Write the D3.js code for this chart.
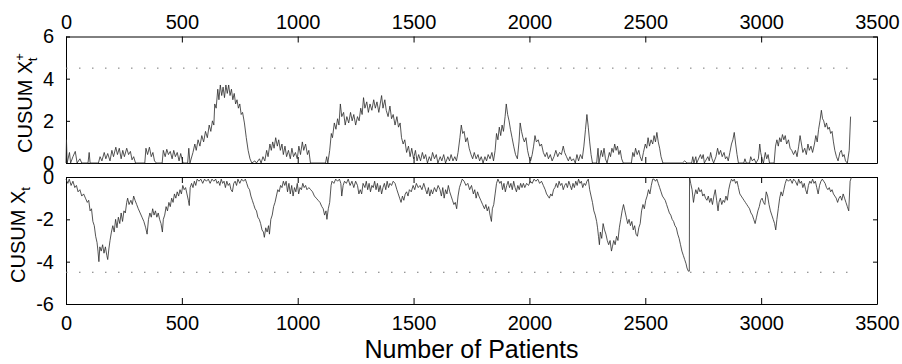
<!DOCTYPE html>
<html lang="en">
<head>
<meta charset="UTF-8">
<title>CUSUM chart</title>
<script src="https://d3js.org/d3.v7.min.js"></script>
<style>
  body { margin: 0; background: #fff; }
  svg { display: block; font-family: "Liberation Sans", Arial, sans-serif; }
  .tick text { font-size: 20px; fill: #000; }
  .domain, .tick line { stroke: #000; stroke-width: 1; }
</style>
</head>
<body>
<svg id="chart"></svg>
<script>
// x ticks and y ticks
const xTicks = [0, 500, 1000, 1500, 2000, 2500, 3000, 3500];
const upperTicks = [0, 2, 4, 6];
const lowerTicks = [-6, -4, -2, 0];
const threshold = 4.5;
const lastPatient = 3390;

// upper CUSUM (patient number, value)
const upperX = [0,2,5,15,20,30,40,48,60,68,95,100,104,140,147,155,165,172,180,190,198,205,215,222,230,238,245,252,262,270,278,285,292,300,340,345,352,360,368,375,382,390,415,420,428,435,442,450,458,465,472,480,488,495,505,525,530,535,548,556,562,570,578,586,594,602,610,618,625,632,638,642,648,655,660,666,672,678,684,690,696,702,708,714,720,726,732,738,744,750,756,762,770,778,786,794,802,815,822,835,842,850,858,866,872,880,886,892,898,905,912,918,925,932,938,945,952,960,968,975,982,990,998,1005,1012,1020,1026,1034,1042,1048,1055,1120,1125,1130,1138,1145,1150,1158,1165,1172,1178,1184,1190,1198,1205,1212,1220,1228,1235,1242,1250,1258,1265,1272,1278,1284,1290,1298,1305,1312,1320,1328,1335,1342,1350,1356,1362,1368,1376,1382,1390,1398,1405,1412,1420,1428,1435,1442,1448,1455,1462,1470,1478,1485,1492,1500,1508,1515,1522,1530,1538,1545,1552,1560,1568,1575,1582,1590,1598,1605,1615,1622,1630,1638,1648,1655,1662,1670,1678,1685,1692,1700,1706,1712,1718,1725,1732,1740,1748,1755,1762,1770,1778,1785,1792,1800,1808,1815,1822,1830,1838,1845,1852,1858,1864,1870,1876,1882,1888,1895,1900,1906,1912,1918,1925,1932,1940,1948,1955,1960,1966,1972,1978,1985,1992,1998,2005,2012,2018,2024,2030,2038,2045,2052,2060,2068,2075,2082,2090,2098,2106,2114,2122,2130,2138,2146,2152,2160,2168,2175,2182,2190,2198,2205,2212,2220,2228,2235,2242,2248,2254,2260,2266,2272,2290,2296,2300,2310,2316,2322,2328,2335,2345,2350,2356,2362,2368,2374,2380,2386,2392,2398,2405,2440,2446,2452,2458,2465,2472,2478,2485,2492,2500,2506,2512,2518,2525,2532,2538,2544,2550,2556,2562,2568,2576,2660,2670,2680,2700,2705,2710,2718,2722,2738,2744,2750,2755,2770,2776,2782,2788,2795,2805,2812,2818,2825,2832,2840,2846,2852,2858,2865,2872,2878,2884,2890,2896,2902,2925,2930,2936,2950,2955,2962,2970,2978,2988,2994,2998,3004,3010,3018,3024,3030,3036,3056,3062,3068,3074,3080,3086,3092,3098,3104,3110,3118,3125,3132,3140,3148,3155,3162,3168,3174,3180,3188,3195,3202,3208,3215,3222,3230,3236,3242,3248,3254,3260,3265,3270,3276,3282,3288,3294,3300,3306,3312,3318,3325,3332,3340,3346,3352,3358,3364,3372,3380,3386];
const upperY = [0,1.1,0,0.5,0,0.3,0.55,0,0.2,0,0,0.5,0,0,0.3,0.1,0.5,0.2,0.45,0.1,0.6,0.3,0.75,0.4,0.7,0.2,0.6,0.3,0.7,0.4,0.55,0.15,0.3,0,0,0.7,0.4,0.75,0.3,0.5,0.1,0,0,0.6,0.3,0.65,0.4,0.55,0.2,0.6,0.3,0.5,0.1,0.45,0,0,0.7,0,0.5,0.9,0.6,1.1,0.8,1.3,1.0,1.5,1.2,1.8,1.5,2.0,1.8,2.8,2.6,3.5,3.0,3.7,3.2,3.6,3.1,3.7,3.3,3.7,3.2,3.5,3.0,3.3,2.8,3.0,2.6,2.8,2.3,2.4,1.9,1.2,0.6,0.2,0,0.1,0,0.2,0,0.3,0.1,0.6,0.3,0.9,0.6,1.0,0.7,1.2,0.8,1.1,0.6,0.9,0.4,0.8,0.3,0.6,0.2,0.7,0.3,0.5,0.2,0.8,0.4,1.0,0.6,0.9,0.4,0.6,0,0,0.3,0,0.6,1.4,1.2,1.9,1.6,2.1,1.8,2.8,2.2,2.4,1.8,2.2,1.9,2.4,2.0,2.3,1.8,2.2,2.0,2.6,2.3,3.1,2.6,2.9,2.4,2.8,2.5,3.0,2.6,2.9,2.4,2.8,3.2,2.6,3.0,2.5,2.2,2.7,2.1,2.3,1.8,2.2,1.7,1.9,1.2,0.9,1.1,0.5,0.8,0.3,0.7,0.2,0.6,0.1,0.4,0.1,0.5,0.2,0.4,0,0.3,0.1,0.5,0.2,0.4,0,0.3,0.1,0.4,0,0.3,0.1,0.4,0.1,0.3,0.1,0.5,1.2,1.8,1.4,1.5,1.0,1.2,0.7,0.4,0.2,0.5,0.2,0.4,0.1,0.3,0,0.3,0.1,0.4,0.2,0.5,0.1,0.6,1.4,1.1,1.7,1.3,1.8,1.5,2.2,2.8,2.3,2.0,1.6,1.2,0.8,0.4,0.2,1.0,1.9,1.5,1.2,1.0,1.2,0.6,0.3,0.1,0.4,0.8,1.3,1.0,1.1,0.8,0.9,0.5,0.3,0.5,0.2,0.4,0.1,0.3,0.6,0.3,0.5,0.4,0.8,0.5,0.3,0.1,0.3,0.1,0.2,0,0.4,0.1,0.4,0.2,0.8,1.6,2.3,1.7,1.0,0.4,0,0,0.7,0,0.6,0.3,0.7,0.2,0,0.5,0.3,0.7,0.5,0.9,0.6,0.8,0.4,0.6,0.2,0,0,0.5,0.3,0.7,0.4,0.6,0.3,0.1,0.5,0.9,0.7,1.2,0.8,1.1,0.9,1.3,1.0,1.45,1.0,0.7,0.3,0,0,0.1,0,0,0.3,0,0.3,0,0.4,0.2,0.4,0,0.3,0.1,0.5,0.2,0,0.3,0.7,0.4,0.6,0.3,0.5,0.2,0.3,0.1,0.5,0.9,1.1,1.45,0.9,0.4,0,0,0.2,0,0,0.3,0.1,0.2,0,0.2,0.9,0.5,0.2,0,0.5,0.2,0.4,0,0,0.8,1.1,0.8,1.2,1.0,1.35,1.1,1.3,0.9,1.1,0.7,0.6,0.4,0.6,0.3,0.8,1.3,0.9,0.5,0.7,0.4,0.9,0.6,0.8,0.5,0.9,1.3,1.0,1.6,2.0,2.5,2.1,2.0,1.7,1.9,1.6,1.7,1.4,1.5,1.0,0.6,0.3,0.1,0.5,0.6,0.3,0.4,0.1,0,0.6,2.2];

// lower CUSUM (patient number, value)
const lowerX = [0,8,14,22,30,38,45,52,60,68,76,84,92,98,104,110,116,122,128,134,138,142,146,152,158,164,170,176,180,185,190,196,202,208,214,220,226,232,238,244,250,256,262,266,272,280,286,292,298,305,312,320,328,336,344,350,356,362,368,374,380,386,392,398,404,410,416,420,426,432,438,444,450,456,462,468,474,480,486,492,498,504,510,516,522,528,532,536,542,548,554,560,566,574,582,590,598,606,614,622,630,638,646,652,658,664,670,676,682,688,694,700,706,712,718,724,730,736,742,750,758,766,774,780,786,792,798,804,810,816,822,828,834,840,846,852,856,862,868,874,878,884,890,896,902,908,914,920,926,932,938,944,950,956,962,968,974,980,986,992,998,1004,1010,1016,1022,1028,1034,1040,1048,1056,1064,1072,1080,1088,1096,1104,1110,1116,1122,1126,1132,1138,1144,1148,1156,1164,1172,1180,1186,1190,1196,1202,1210,1218,1226,1234,1242,1250,1258,1264,1270,1276,1282,1290,1296,1302,1308,1314,1320,1326,1332,1338,1344,1350,1356,1362,1368,1374,1380,1386,1392,1398,1405,1412,1420,1428,1434,1440,1446,1452,1458,1464,1470,1476,1482,1490,1498,1505,1512,1520,1528,1536,1544,1552,1558,1564,1570,1576,1582,1590,1598,1606,1614,1620,1626,1632,1638,1644,1650,1656,1662,1668,1674,1680,1686,1692,1698,1704,1710,1718,1726,1734,1742,1750,1758,1764,1770,1776,1782,1790,1798,1806,1812,1818,1824,1830,1836,1840,1846,1852,1858,1864,1872,1878,1884,1890,1896,1902,1908,1914,1920,1926,1932,1938,1944,1950,1956,1962,1968,1974,1980,1988,1996,2004,2012,2020,2028,2036,2044,2052,2060,2068,2074,2080,2086,2092,2098,2104,2110,2116,2122,2128,2134,2140,2146,2152,2158,2164,2170,2176,2182,2188,2194,2200,2206,2212,2218,2224,2230,2236,2242,2248,2254,2260,2266,2272,2278,2284,2290,2294,2298,2302,2306,2312,2318,2324,2330,2336,2342,2348,2354,2358,2364,2370,2376,2382,2388,2394,2400,2406,2412,2418,2424,2430,2436,2442,2448,2454,2460,2466,2472,2478,2484,2490,2496,2502,2508,2514,2520,2526,2532,2538,2544,2550,2556,2562,2568,2574,2580,2586,2592,2598,2604,2610,2616,2622,2628,2634,2640,2646,2652,2658,2664,2670,2676,2680,2686,2690,2691,2696,2702,2708,2712,2718,2724,2730,2736,2742,2748,2754,2760,2766,2772,2778,2784,2790,2796,2802,2808,2814,2818,2824,2830,2836,2842,2848,2854,2860,2866,2872,2878,2884,2890,2896,2902,2908,2914,2920,2926,2932,2938,2944,2950,2956,2962,2968,2974,2980,2986,2992,2998,3004,3010,3016,3022,3028,3034,3040,3046,3052,3058,3063,3068,3074,3080,3086,3092,3098,3104,3110,3118,3126,3134,3140,3148,3156,3162,3168,3174,3180,3186,3192,3198,3204,3210,3216,3222,3228,3234,3240,3246,3252,3258,3264,3270,3276,3282,3288,3294,3300,3306,3312,3318,3324,3330,3336,3342,3348,3354,3360,3366,3372,3378,3384,3390];
const lowerY = [-0.1,-0.3,-0.1,-0.4,-0.2,-0.5,-0.4,-0.7,-0.6,-0.9,-0.8,-1.0,-1.2,-1.1,-1.6,-1.5,-2.1,-2.3,-2.8,-3.1,-3.5,-4.0,-3.3,-3.5,-3.2,-3.6,-3.3,-3.7,-3.9,-3.4,-3.0,-2.6,-2.3,-2.6,-2.0,-2.4,-1.9,-2.2,-1.7,-2.1,-1.6,-1.7,-1.2,-1.0,-1.3,-1.1,-1.3,-0.9,-1.1,-1.3,-1.5,-1.7,-1.9,-2.1,-2.4,-2.7,-2.0,-1.7,-1.9,-1.5,-1.8,-1.6,-1.9,-1.7,-2.0,-2.2,-2.6,-2.0,-1.8,-1.4,-1.6,-1.2,-1.4,-1.0,-1.2,-0.8,-1.0,-0.7,-0.9,-0.6,-0.8,-0.4,-0.6,-0.5,-0.8,-1.1,-1.35,-0.5,-0.3,-0.5,-0.2,-0.4,-0.1,-0.2,-0.1,-0.3,-0.1,-0.2,-0.1,-0.3,-0.1,-0.2,-0.1,-0.3,-0.2,-0.4,-0.1,-0.3,-0.2,-0.5,-0.2,-0.4,-0.3,-0.6,-0.7,-0.3,-0.2,-0.4,-0.1,-0.3,-0.1,-0.2,-0.1,-0.3,-0.5,-0.6,-0.9,-1.1,-1.3,-1.5,-1.6,-1.9,-2.0,-2.2,-2.5,-2.6,-2.85,-2.4,-2.6,-2.3,-2.7,-2.0,-1.8,-1.4,-1.2,-0.9,-0.6,-0.7,-0.4,-0.5,-0.2,-0.4,-0.2,-0.7,-0.3,-0.8,-0.4,-0.9,-0.5,-0.7,-0.3,-0.8,-0.5,-0.6,-0.3,-0.5,-0.4,-0.6,-0.5,-0.6,-0.7,-0.9,-1.0,-1.1,-1.2,-1.4,-1.5,-1.8,-1.6,-2.0,-1.5,-1.2,-0.4,-0.2,-0.3,-0.1,-0.2,-0.1,-0.3,-0.9,-0.4,-0.2,-0.3,-0.1,-0.4,-0.2,-0.5,-0.2,-0.4,-0.8,-0.6,-0.8,-0.3,-0.5,-0.2,-0.6,-0.3,-0.7,-0.4,-0.5,-0.2,-0.6,-0.3,-0.7,-0.4,-0.8,-0.5,-0.3,-0.6,-0.2,-0.5,-0.3,-0.4,-0.2,-0.3,-0.6,-0.8,-1.0,-1.2,-0.9,-1.1,-0.8,-0.7,-0.9,-0.6,-0.7,-0.4,-0.6,-0.3,-0.5,-0.4,-0.6,-0.3,-0.6,-0.8,-0.5,-0.9,-0.6,-0.8,-0.5,-0.7,-0.4,-0.6,-0.9,-0.5,-1.0,-0.6,-0.8,-0.4,-0.7,-0.9,-1.1,-1.3,-1.2,-1.5,-0.9,-0.5,-0.3,-0.1,-0.2,-0.4,-0.3,-0.6,-0.4,-0.8,-0.6,-1.0,-0.7,-0.9,-1.1,-1.3,-1.5,-1.3,-1.6,-1.4,-1.8,-2.1,-1.5,-1.3,-0.8,-0.3,-0.1,-0.3,-0.2,-0.6,-0.3,-0.7,-0.4,-0.2,-0.5,-0.3,-0.6,-0.2,-0.5,-0.7,-0.4,-0.6,-0.3,-0.5,-0.3,-0.5,-0.3,-0.4,-0.2,-0.3,-0.1,-0.2,-0.1,-0.3,-0.2,-0.4,-0.6,-0.8,-0.9,-1.0,-0.8,-0.9,-0.6,-0.5,-0.3,-0.5,-0.2,-0.4,-0.3,-0.6,-0.4,-0.3,-0.5,-0.2,-0.4,-0.6,-0.3,-0.5,-0.2,-0.4,-0.1,-0.3,-0.2,-0.5,-0.3,-0.4,-0.2,-0.1,-0.6,-0.9,-1.2,-1.6,-1.8,-2.1,-2.4,-2.8,-3.2,-2.6,-2.9,-2.2,-2.5,-2.7,-3.0,-3.2,-3.0,-3.5,-3.3,-3.0,-3.2,-2.8,-3.0,-2.4,-2.0,-1.6,-1.3,-1.6,-1.9,-2.2,-2.0,-2.3,-2.1,-2.5,-2.3,-2.7,-2.8,-2.4,-2.2,-1.6,-1.3,-1.5,-1.1,-0.9,-0.6,-0.8,-0.4,-0.1,-0.1,-0.2,-0.1,-0.3,-0.5,-0.7,-0.9,-1.0,-1.1,-1.3,-1.5,-1.7,-1.8,-2.0,-2.1,-2.3,-2.4,-2.7,-2.9,-3.2,-3.5,-3.7,-3.9,-4.1,-4.3,-4.45,-4.45,0,-0.3,-0.6,-1.2,-0.9,-0.6,-0.8,-0.5,-0.7,-0.6,-0.9,-0.8,-1.0,-1.1,-0.9,-1.2,-1.0,-1.3,-0.9,-0.6,-1.1,-1.6,-1.2,-1.0,-1.3,-1.1,-1.2,-0.9,-1.1,-0.6,-0.3,-0.1,-0.2,-0.1,-0.3,-0.2,-0.5,-0.8,-0.9,-1.0,-1.1,-1.2,-1.3,-1.4,-1.5,-1.7,-1.8,-2.0,-2.2,-1.9,-1.6,-1.4,-1.1,-1.0,-1.2,-1.3,-0.7,-0.9,-1.3,-1.6,-1.8,-2.0,-2.2,-2.5,-2.0,-1.5,-1.0,-0.7,-0.9,-0.6,-0.3,-0.1,-0.2,-0.1,-0.3,-0.1,-0.2,-0.4,-0.1,-0.3,-0.2,-0.5,-0.3,-0.6,-0.8,-0.4,-0.2,-0.3,-0.1,-0.3,-0.2,-0.5,-0.8,-0.4,-0.2,-0.1,-0.2,-0.3,-0.5,-0.6,-0.5,-0.7,-0.6,-0.8,-0.9,-1.0,-1.2,-1.0,-0.9,-1.1,-0.8,-1.0,-1.2,-1.4,-1.6,-0.2,0];

const width = 902, height = 364;
const left = 66, right = 877;

const svg = d3.select("#chart")
    .attr("width", width)
    .attr("height", height);

const x = d3.scaleLinear().domain([0, 3500]).range([left, right]);
const yUp = d3.scaleLinear().domain([0, 6]).range([163, 36.5]);
const yLo = d3.scaleLinear().domain([-6, 0]).range([304, 177]);

function panel(y, yTicks, showTop, showBottom, xs, ys, thr) {
    const g = svg.append("g");
    const [y0, y1] = y.range();

    // frame + inward ticks on all four sides
    g.append("g").attr("transform", `translate(0,${y1})`)
        .call(d3.axisTop(x).tickValues(xTicks).tickSizeInner(-6).tickSizeOuter(0).tickPadding(7.5)
            .tickFormat(showTop ? d3.format("d") : ""));
    g.append("g").attr("transform", `translate(0,${y0})`)
        .call(d3.axisBottom(x).tickValues(xTicks).tickSizeInner(-6).tickSizeOuter(0).tickPadding(12)
            .tickFormat(showBottom ? d3.format("d") : ""));
    g.append("g").attr("transform", `translate(${left},0)`)
        .call(d3.axisLeft(y).tickValues(yTicks).tickSizeInner(-4).tickSizeOuter(0).tickPadding(12)
            .tickFormat(d => d < 0 ? "-" + Math.abs(d) : d));
    g.append("g").attr("transform", `translate(${right},0)`)
        .call(d3.axisRight(y).tickValues(yTicks).tickSizeInner(-4).tickSizeOuter(0).tickFormat(""));

    // threshold
    g.append("line")
        .attr("x1", x(0)).attr("x2", x(lastPatient))
        .attr("y1", y(thr)).attr("y2", y(thr))
        .attr("stroke", "#777")
        .attr("stroke-width", 1)
        .attr("stroke-dasharray", "1.5,11.5");

    const line = d3.line().x(d => x(d[0])).y(d => y(d[1]));
    g.append("path")
        .datum(d3.zip(xs, ys))
        .attr("fill", "none")
        .attr("stroke", "#2a2a2a")
        .attr("stroke-width", 0.8)
        .attr("d", line);
    return g;
}

panel(yUp, upperTicks, true, false, upperX, upperY, threshold);
panel(yLo, lowerTicks, false, true, lowerX, lowerY, -threshold);

// y labels
function yLabel(cx, startY, sup) {
    const t = svg.append("text")
        .attr("transform", `translate(${cx},${startY}) rotate(-90)`)
        .attr("font-size", 20)
        .text("CUSUM X");
    if (sup) {
        t.append("tspan").attr("font-size", 13).attr("dy", -8).text(sup);
        t.append("tspan").attr("font-size", 13).attr("dx", -8).attr("dy", 13).text("t");
    } else {
        t.append("tspan").attr("font-size", 13).attr("dy", 5).text("t");
    }
}
yLabel(32, 153, "+");
yLabel(25, 283, null);

svg.append("text")
    .attr("x", (left + right) / 2)
    .attr("y", 358)
    .attr("text-anchor", "middle")
    .attr("font-size", 25)
    .text("Number of Patients");
</script>
</body>
</html>
